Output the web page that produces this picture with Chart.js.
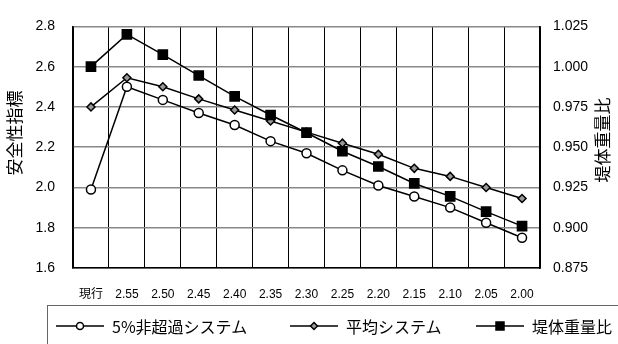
<!DOCTYPE html>
<html>
<head>
<meta charset="utf-8">
<script src="https://cdn.jsdelivr.net/npm/chart.js@4"></script>
<style>
  body { margin: 0; background: #fff; }
  #wrap { position: relative; width: 618px; height: 344px; overflow: hidden; }
  #legend {
    position: absolute; left: 47px; top: 305px; width: 600px; height: 60px;
    border: 1.5px solid #666; box-sizing: border-box;
    font-family: "Noto Sans CJK JP", sans-serif; font-size: 16px; color: #000;
  }
  .item { position: absolute; top: 8px; display: flex; align-items: center; }
  .item canvas { margin-right: 8px; }
</style>
</head>
<body>
<div id="wrap">
  <canvas id="chart" width="618" height="344"></canvas>
  <div id="legend"></div>
</div>
<script>
const categories = ["現行", "2.55", "2.50", "2.45", "2.40", "2.35", "2.30", "2.25", "2.20", "2.15", "2.10", "2.05", "2.00"];
const nonExceed5 = [1.99, 2.50, 2.435, 2.37, 2.31, 2.23, 2.17, 2.085, 2.01, 1.955, 1.90, 1.825, 1.75];
const averageSys = [2.40, 2.545, 2.50, 2.44, 2.385, 2.33, 2.275, 2.22, 2.165, 2.095, 2.055, 2.00, 1.945];
const weightRatio = [1.000, 1.020, 1.0075, 0.9945, 0.9815, 0.970, 0.959, 0.9475, 0.938, 0.9275, 0.9195, 0.910, 0.901];
const leftTicks = [1.6, 1.8, 2.0, 2.2, 2.4, 2.6, 2.8];
const rightTicks = [0.875, 0.900, 0.925, 0.950, 0.975, 1.000, 1.025];

const numFont = "'Liberation Sans', 'Noto Sans CJK JP', sans-serif";
const jpFont = "'Noto Sans CJK JP', sans-serif";

// draws the two vertical axis titles (both read bottom to top)
const axisTitles = {
  id: "axisTitles",
  afterDraw(chart) {
    const ctx = chart.ctx;
    ctx.save();
    ctx.font = "17px " + jpFont;
    ctx.fillStyle = "#000";
    ctx.textAlign = "center";
    ctx.textBaseline = "middle";
    [["安全性指標", 15, 133], ["堤体重量比", 603, 140]].forEach(t => {
      ctx.save();
      ctx.translate(t[1], t[2]);
      ctx.rotate(-Math.PI / 2);
      ctx.fillText(t[0], 0, 0);
      ctx.restore();
    });
    ctx.restore();
  }
};

const series = [
  { label: "堤体重量比", data: weightRatio, yAxisID: "y1", pointStyle: "rect", pointRadius: 6.5, bg: "#000" },
  { label: "平均システム", data: averageSys, yAxisID: "y", pointStyle: "rectRot", pointRadius: 4, bg: "#999" },
  { label: "5%非超過システム", data: nonExceed5, yAxisID: "y", pointStyle: "circle", pointRadius: 4.5, bg: "#fff" }
];

new Chart(document.getElementById("chart"), {
  type: "line",
  data: {
    labels: categories,
    datasets: series.map(s => ({
      label: s.label,
      data: s.data,
      yAxisID: s.yAxisID,
      borderColor: "#000",
      borderWidth: 1.5,
      pointStyle: s.pointStyle,
      pointRadius: s.pointRadius,
      pointBackgroundColor: s.bg,
      pointBorderColor: "#000",
      pointBorderWidth: 1.5,
      tension: 0
    }))
  },
  options: {
    responsive: false,
    animation: false,
    layout: { padding: { top: 12 } },
    plugins: { legend: { display: false }, tooltip: { enabled: false } },
    scales: {
      x: {
        offset: true,
        grid: { color: "#000", lineWidth: 1, drawTicks: false, offset: true },
        border: { color: "#000", width: 1.5 },
        ticks: { padding: 19, color: "#000", font: { family: numFont, size: 12 }, maxRotation: 0, autoSkip: false },
        afterFit: s => { s.height = 76; }
      },
      y: {
        position: "left",
        min: leftTicks[0],
        max: leftTicks[leftTicks.length - 1],
        afterBuildTicks: s => { s.ticks = leftTicks.map(v => ({ value: v })); },
        grid: { color: "#888", lineWidth: 1.5, drawTicks: false },
        border: { color: "#000", width: 1.5 },
        ticks: { padding: 18, color: "#000", font: { family: numFont, size: 14 }, callback: v => v.toFixed(1) },
        afterFit: s => { s.width = 73; }
      },
      y1: {
        position: "right",
        min: rightTicks[0],
        max: rightTicks[rightTicks.length - 1],
        afterBuildTicks: s => { s.ticks = rightTicks.map(v => ({ value: v })); },
        grid: { drawOnChartArea: false, drawTicks: false },
        border: { color: "#000", width: 1.5 },
        ticks: { padding: 13, color: "#000", font: { family: numFont, size: 14 }, callback: v => v.toFixed(3) },
        afterFit: s => { s.width = 78; }
      }
    }
  },
  plugins: [axisTitles]
});

// legend: line with marker in the middle, then the label
function legendSymbol(style, bg) {
  const c = document.createElement("canvas");
  c.width = 48; c.height = 14;
  const g = c.getContext("2d");
  g.strokeStyle = "#000"; g.lineWidth = 1.5;
  g.beginPath(); g.moveTo(0, 7); g.lineTo(48, 7); g.stroke();
  g.fillStyle = bg;
  g.beginPath();
  if (style === "circle") g.arc(24, 7, 3.5, 0, Math.PI * 2);
  else if (style === "rectRot") { g.moveTo(24, 3.5); g.lineTo(27.5, 7); g.lineTo(24, 10.5); g.lineTo(20.5, 7); g.closePath(); }
  else g.rect(20, 3, 8, 8);
  g.fill(); g.stroke();
  return c;
}
const legendPos = [8, 242, 428];
const legend = document.getElementById("legend");
series.slice().reverse().forEach((s, i) => {
  const item = document.createElement("div");
  item.className = "item";
  item.style.left = legendPos[i] + "px";
  item.appendChild(legendSymbol(s.pointStyle, s.bg));
  const span = document.createElement("span");
  span.textContent = s.label;
  item.appendChild(span);
  legend.appendChild(item);
});
</script>
</body>
</html>
